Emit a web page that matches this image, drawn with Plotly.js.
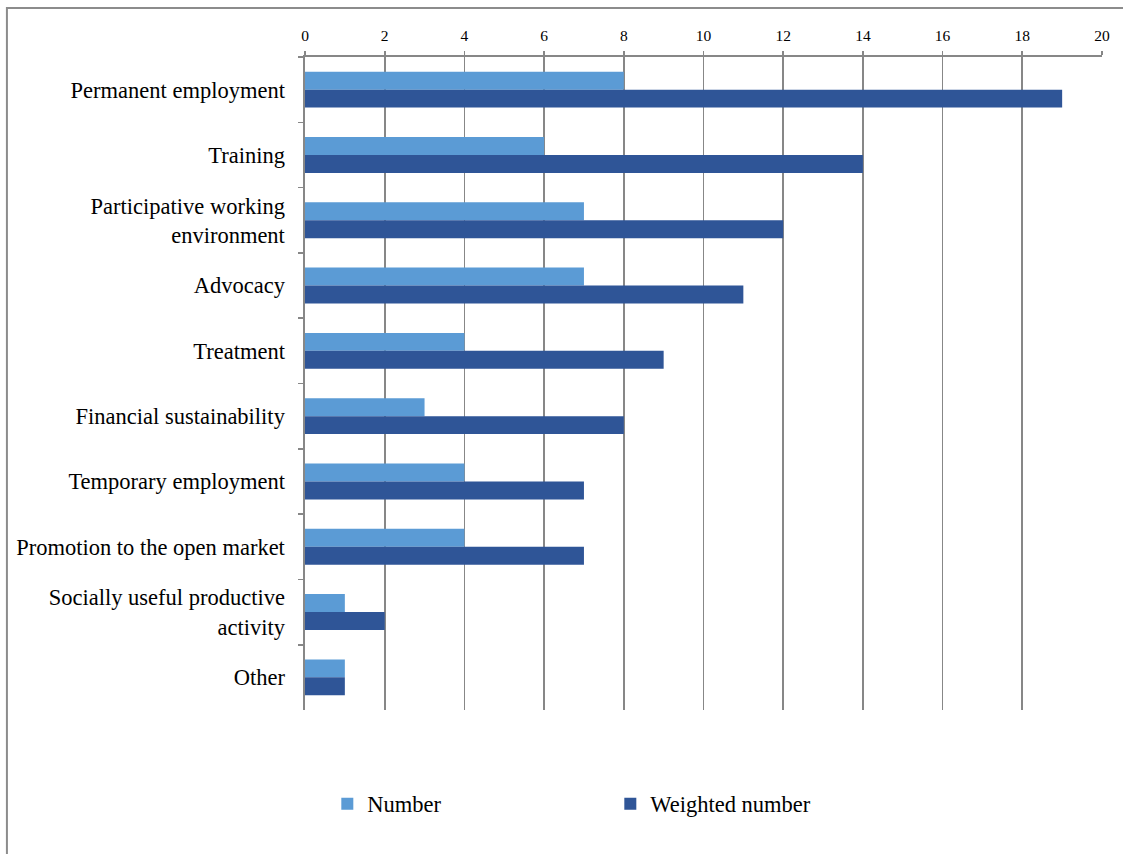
<!DOCTYPE html>
<html>
<head>
<meta charset="utf-8">
<script src="https://cdn.plot.ly/plotly-3.0.1.min.js"></script>
<style>html,body{margin:0;padding:0;background:#fff;}#chart{width:1123px;height:854px;}</style>
</head>
<body>
<div id="chart"></div>
<script>
const categories = [
  "Permanent employment",
  "Training",
  "Participative working<br>environment",
  "Advocacy",
  "Treatment",
  "Financial sustainability",
  "Temporary employment",
  "Promotion to the open market",
  "Socially useful productive<br>activity",
  "Other"
];
const numberValues = [8, 6, 7, 7, 4, 3, 4, 4, 1, 1];
const weightedValues = [19, 14, 12, 11, 9, 8, 7, 7, 2, 1];
const xTickValues = [0, 2, 4, 6, 8, 10, 12, 14, 16, 18, 20];

const FONT = "'Liberation Serif', 'Times New Roman', serif";
const GRID = "#878787";

const traces = [
  {
    type: "bar", orientation: "h", name: "Number",
    y: categories, x: numberValues,
    marker: {color: "#5b9bd5"}
  },
  {
    type: "bar", orientation: "h", name: "Weighted number",
    y: categories, x: weightedValues,
    marker: {color: "#2f5597"}
  }
];

const layout = {
  width: 1123, height: 854,
  margin: {l: 305, r: 21, t: 57, b: 144},
  paper_bgcolor: "#fff", plot_bgcolor: "#fff",
  font: {family: FONT, color: "#000", size: 22.5},
  barmode: "group",
  bargap: 0.45,
  bargroupgap: 0,
  showlegend: true,
  legend: {
    orientation: "h", x: 0.028, y: -0.144, xanchor: "left", yanchor: "middle",
    font: {family: FONT, size: 22.5, color: "#000"},
    entrywidth: 238, entrywidthmode: "pixels",
    itemwidth: 30, traceorder: "normal"
  },
  xaxis: {
    side: "top", range: [0, 20], tickvals: xTickValues, ticktext: xTickValues.map(String),
    showgrid: true, gridcolor: GRID, gridwidth: 1.6,
    showline: true, linecolor: GRID, linewidth: 1.6,
    ticks: "outside", ticklen: 4, tickcolor: GRID, tickwidth: 1.6,
    tickfont: {family: FONT, size: 15.5, color: "#000"},
    ticklabelstandoff: 4,
    zeroline: false, fixedrange: true
  },
  yaxis: {
    type: "category", autorange: "reversed",
    showgrid: false, showline: true, linecolor: GRID, linewidth: 1.6,
    ticks: "outside", tickson: "boundaries", ticklen: 5, tickcolor: GRID, tickwidth: 1.6,
    tickfont: {family: FONT, size: 22.5, color: "#000"},
    ticklabelstandoff: 14,
    zeroline: false, fixedrange: true
  },
  shapes: [{
    type: "rect", xref: "paper", yref: "paper",
    x0: -0.374, x1: 1.2, y0: -0.4, y1: 1.075,
    line: {color: "#8c8c8c", width: 2}, fillcolor: "rgba(0,0,0,0)", layer: "above"
  }]
};

Plotly.newPlot("chart", traces, layout, {displayModeBar: false, staticPlot: true});
</script>
</body>
</html>
